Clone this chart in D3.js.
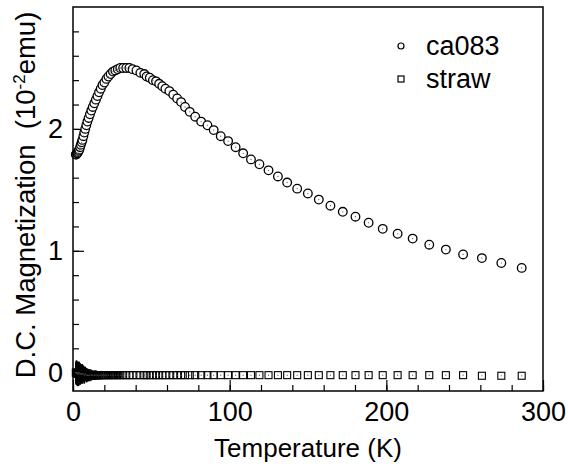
<!DOCTYPE html>
<html>
<head>
<meta charset="utf-8">
<script src="https://cdn.jsdelivr.net/npm/d3@7"></script>
<style>
  body { margin: 0; background: #fff; }
  svg { display: block; font-family: "Liberation Sans", Arial, sans-serif; }
</style>
</head>
<body>
<svg id="chart" width="568" height="464"></svg>
<script>
// temperatures (K) shared by both samples
const tempK = [1.8, 2.1, 2.4, 2.8, 3.2, 3.6, 4.0, 4.5, 5.0, 5.5, 6.0, 6.6, 7.2, 7.8, 8.5, 9.2, 10.0, 10.8, 11.7, 12.6,
  13.6, 14.6, 15.6, 16.6, 17.7, 18.8, 20.0, 21.3, 22.6, 24.0, 25.5, 27.0, 28.6, 30.2, 32.0, 34.0, 36.0, 38.0, 40.5, 43.0,
  45.5, 47.0, 49.0, 51.0, 53.0, 55.0, 57.0, 59.0, 61.5, 64.0, 66.5, 69.0, 71.5, 74.5, 78.0, 81.8, 85.8, 89.8, 94.3, 99.0,
  103.8, 108.6, 113.6, 119.0, 124.8, 130.8, 136.7, 143.1, 149.9, 156.9, 164.3, 172.2, 180.3, 188.7, 197.7, 207.2, 216.8, 227.4, 238.0, 249.0,
  261.0, 273.4, 286.4]

// magnetization, 10^-2 emu
const ca083 = [1.79, 1.79, 1.80, 1.80, 1.81, 1.82, 1.83, 1.85, 1.87, 1.89, 1.91, 1.94, 1.97, 2.00, 2.03, 2.06, 2.09, 2.12, 2.15, 2.18,
  2.21, 2.24, 2.27, 2.30, 2.33, 2.36, 2.38, 2.41, 2.43, 2.45, 2.47, 2.48, 2.49, 2.50, 2.50, 2.50, 2.50, 2.49, 2.48, 2.46,
  2.45, 2.43, 2.42, 2.40, 2.39, 2.37, 2.35, 2.33, 2.31, 2.28, 2.25, 2.22, 2.18, 2.14, 2.10, 2.06, 2.03, 1.99, 1.94, 1.90,
  1.85, 1.80, 1.75, 1.71, 1.66, 1.61, 1.56, 1.51, 1.47, 1.42, 1.37, 1.32, 1.28, 1.23, 1.18, 1.14, 1.10, 1.05, 1.01, 0.97,
  0.94, 0.90, 0.86]

const straw = [0.00, 0.00, 0.00, -0.01, 0.00, -0.01, 0.00, -0.01, -0.01, -0.01, -0.01, -0.01, -0.02, -0.01, -0.02, -0.02, -0.02, -0.02, -0.02, -0.02,
  -0.02, -0.02, -0.02, -0.02, -0.02, -0.02, -0.02, -0.02, -0.02, -0.02, -0.02, -0.02, -0.02, -0.02, -0.02, -0.02, -0.02, -0.02, -0.02, -0.02,
  -0.02, -0.02, -0.02, -0.02, -0.02, -0.02, -0.02, -0.02, -0.02, -0.02, -0.02, -0.02, -0.02, -0.02, -0.02, -0.02, -0.02, -0.02, -0.02, -0.02,
  -0.02, -0.02, -0.02, -0.02, -0.02, -0.02, -0.02, -0.02, -0.02, -0.02, -0.02, -0.02, -0.02, -0.02, -0.02, -0.02, -0.02, -0.02, -0.02, -0.02,
  -0.025, -0.025, -0.025]

// error bar half-heights for straw (only visible at low T)
const strawErr = [0.09, 0.10, 0.10, 0.10, 0.09, 0.10, 0.09, 0.09, 0.08, 0.08, 0.08, 0.07, 0.07, 0.06, 0.06, 0.055, 0.05, 0.05, 0.045, 0.04,
  0.04, 0.04, 0.035, 0.035, 0.035, 0.03, 0.03, 0.03, 0.03, 0.03, 0.025, 0.025, 0.025, 0.025]

const xTicks = [0, 100, 200, 300]
const yTicks = [0, 1, 2]

const width = 568, height = 464
const margin = {top: 7, right: 25, bottom: 73, left: 73}
const innerW = width - margin.left - margin.right
const innerH = height - margin.top - margin.bottom

const svg = d3.select('#chart')
const g = svg.append('g').attr('transform', `translate(${margin.left},${margin.top})`)

const xScale = d3.scaleLinear().domain([0, 300]).range([0, innerW])
const yScale = d3.scaleLinear().domain([-0.15, 3.0]).range([innerH, 0])

const ca083Data = tempK.map((t, i) => ({t: t, m: ca083[i]}))
const strawData = tempK.map((t, i) => ({t: t, m: straw[i], e: strawErr[i] || 0}))

// minor + major ticks, inward
const xMinor = d3.range(0, 301, 20)
const yMinor = d3.range(0, 2.81, 0.2)

g.append('g')
  .attr('transform', `translate(0,${innerH})`)
  .call(d3.axisBottom(xScale).tickValues(xMinor).tickSize(-6).tickFormat(''))
  .call(a => a.select('.domain').remove())
g.append('g')
  .attr('transform', `translate(0,${innerH})`)
  .call(d3.axisBottom(xScale).tickValues(xTicks).tickSize(-11).tickPadding(11).tickFormat(d3.format('d')))
  .call(a => a.select('.domain').remove())
  .selectAll('text').attr('font-size', 27).attr('font-family', '"Liberation Sans", Arial, sans-serif')

g.append('g')
  .call(d3.axisLeft(yScale).tickValues(yMinor).tickSize(-6).tickFormat(''))
  .call(a => a.select('.domain').remove())
g.append('g')
  .call(d3.axisLeft(yScale).tickValues(yTicks).tickSize(-11).tickPadding(10).tickFormat(d3.format('d')))
  .call(a => a.select('.domain').remove())
  .selectAll('text').attr('font-size', 27).attr('font-family', '"Liberation Sans", Arial, sans-serif')

g.selectAll('.tick line').attr('stroke', '#000').attr('stroke-width', 1.2)

// frame
g.append('rect')
  .attr('width', innerW).attr('height', innerH)
  .attr('fill', 'none').attr('stroke', '#000').attr('stroke-width', 1.5)

// straw: error bars, squares
g.selectAll('.strawErr')
  .data(strawData.filter(d => d.e > 0))
  .join('line')
  .attr('class', 'strawErr')
  .attr('x1', d => xScale(d.t)).attr('x2', d => xScale(d.t))
  .attr('y1', d => yScale(d.m - d.e)).attr('y2', d => yScale(d.m + d.e))
  .attr('stroke', '#000').attr('stroke-width', 1.6)

const sq = 7
g.selectAll('.straw')
  .data(strawData)
  .join('rect')
  .attr('class', 'straw')
  .attr('x', d => xScale(d.t) - sq / 2).attr('y', d => yScale(d.m) - sq / 2)
  .attr('width', sq).attr('height', sq)
  .attr('fill', 'none').attr('stroke', '#000').attr('stroke-width', 1.1)

// ca083 circles
g.selectAll('.ca083')
  .data(ca083Data)
  .join('circle')
  .attr('class', 'ca083')
  .attr('cx', d => xScale(d.t)).attr('cy', d => yScale(d.m))
  .attr('r', 4.3)
  .attr('fill', '#fff').attr('stroke', '#000').attr('stroke-width', 1.3)

// tiny centre dots
g.selectAll('.dot')
  .data(ca083Data.concat(strawData))
  .join('circle')
  .attr('class', 'dot')
  .attr('cx', d => xScale(d.t)).attr('cy', d => yScale(d.m))
  .attr('r', 0.6).attr('fill', '#555')

// axis titles
svg.append('text')
  .attr('x', margin.left + innerW / 2).attr('y', 457)
  .attr('text-anchor', 'middle').attr('font-size', 26)
  .text('Temperature (K)')

const yLabel = svg.append('text')
  .attr('transform', 'translate(35,195) rotate(-90)')
  .attr('text-anchor', 'middle').attr('font-size', 27.5)
  .style('white-space', 'pre')
yLabel.append('tspan').text('D.C. Magnetization  (10')
yLabel.append('tspan').attr('dy', -10).attr('font-size', 17).text('-2')
yLabel.append('tspan').attr('dy', 10).text('emu)')

// legend
const legend = svg.append('g')
legend.append('circle').attr('cx', 401).attr('cy', 46).attr('r', 3)
  .attr('fill', '#fff').attr('stroke', '#000').attr('stroke-width', 1.2)
legend.append('rect').attr('x', 398).attr('y', 76).attr('width', 6).attr('height', 6)
  .attr('fill', '#fff').attr('stroke', '#000').attr('stroke-width', 1.2)
legend.append('text').attr('x', 426).attr('y', 55).attr('font-size', 27).text('ca083')
legend.append('text').attr('x', 426).attr('y', 88).attr('font-size', 27).text('straw')
</script>
</body>
</html>
